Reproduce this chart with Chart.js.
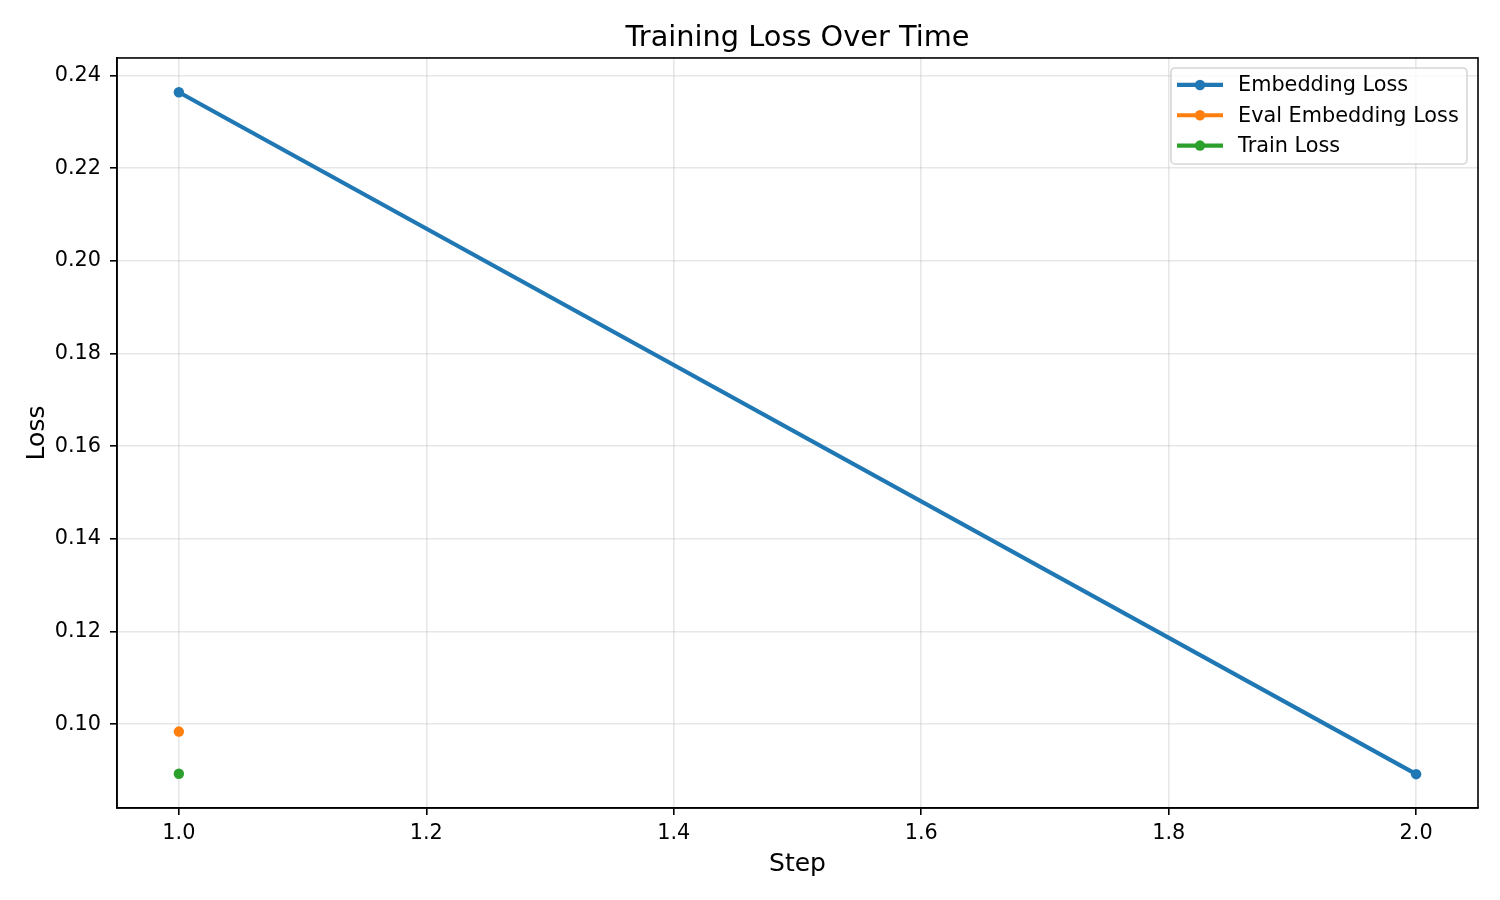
<!DOCTYPE html>
<html>
<head>
<meta charset="utf-8">
<title>Training Loss Over Time</title>
<script src="https://cdn.jsdelivr.net/npm/chart.js@4.4.1/dist/chart.umd.min.js"></script>
<style>
	html, body { margin: 0; padding: 0; background: #fff; }
	#wrap { width: 1500px; height: 900px; }
</style>
</head>
<body>
<div id="wrap"><canvas id="loss-chart" width="1500" height="900"></canvas></div>
<script>
// values
const steps             = [1.0, 2.0];
const embeddingLoss     = [0.2364, 0.0892];
const evalSteps         = [1.0];
const evalEmbeddingLoss = [0.0984];
const trainSteps        = [1.0];
const trainLoss         = [0.0893];

const xTicks = [1.0, 1.2, 1.4, 1.6, 1.8, 2.0];
const yTicks = [0.10, 0.12, 0.14, 0.16, 0.18, 0.20, 0.22, 0.24];

const FONT = "'DejaVu Sans', 'Liberation Sans', sans-serif";

let series = [
	{ name: "Embedding Loss",      color: "#1f77b4", x: steps,      y: embeddingLoss },
	{ name: "Eval Embedding Loss", color: "#ff7f0e", x: evalSteps,  y: evalEmbeddingLoss },
	{ name: "Train Loss",          color: "#2ca02c", x: trainSteps, y: trainLoss }
];

// axes frame on top/right plus a matplotlib-like legend inside the plot
const framePlugin = {
	id: 'frame',
	afterDatasetsDraw(chart) {
		const a = chart.chartArea, ctx = chart.ctx;
		ctx.save();
		ctx.strokeStyle = '#000';
		ctx.lineWidth = 1.6;
		ctx.strokeRect(a.left, a.top, a.right - a.left, a.bottom - a.top);
		ctx.restore();
	},
	afterDraw(chart) {
		const a = chart.chartArea, ctx = chart.ctx;
		const w = 296, h = 96;
		const x0 = a.right - 11 - w, y0 = a.top + 10;
		ctx.save();
		ctx.beginPath();
		ctx.roundRect(x0, y0, w, h, 4);
		ctx.fillStyle = 'rgba(255,255,255,0.8)';
		ctx.fill();
		ctx.strokeStyle = 'rgba(204,204,204,0.8)';
		ctx.lineWidth = 1.6;
		ctx.stroke();
		ctx.font = '20.8px ' + FONT;
		ctx.textBaseline = 'middle';
		ctx.textAlign = 'left';
		chart.data.datasets.forEach((ds, i) => {
			const y = y0 + 17 + i * 30.3;
			ctx.strokeStyle = ds.borderColor;
			ctx.lineWidth = 4.2;
			ctx.beginPath();
			ctx.moveTo(x0 + 6, y);
			ctx.lineTo(x0 + 52, y);
			ctx.stroke();
			ctx.fillStyle = ds.borderColor;
			ctx.beginPath();
			ctx.arc(x0 + 29, y, 5.2, 0, Math.PI * 2);
			ctx.fill();
			ctx.fillStyle = '#000';
			ctx.fillText(ds.label, x0 + 67, y + 1);
		});
		ctx.restore();
	}
};

let datasets = series.map(s => ({
	label: s.name,
	data: s.x.map((v, i) => ({ x: v, y: s.y[i] })),
	borderColor: s.color,
	backgroundColor: s.color,
	borderWidth: 4.2,
	pointRadius: 5.2,
	pointHoverRadius: 5.2,
	pointBorderWidth: 0,
	tension: 0
}));

let ctx = document.getElementById('loss-chart').getContext('2d');

new Chart(ctx, {
	type: 'line',
	data: { datasets: datasets },
	options: {
		responsive: false,
		animation: false,
		devicePixelRatio: 1,
		layout: { padding: { left: 0, right: 22, top: 0, bottom: 0 } },
		plugins: {
			legend: { display: false },
			tooltip: { enabled: false },
			title: {
				display: true,
				fullSize: false,
				text: 'Training Loss Over Time',
				color: '#000',
				font: { family: FONT, size: 28.8, weight: 'normal', lineHeight: 1.2 },
				padding: { top: 21, bottom: 2.4 }
			}
		},
		scales: {
			x: {
				type: 'linear',
				min: 0.95,
				max: 2.05,
				afterBuildTicks: s => { s.ticks = xTicks.map(v => ({ value: v })); },
				afterFit: s => { s.height = 92; },
				ticks: {
					color: '#000',
					padding: 6,
					maxRotation: 0,
					font: { family: FONT, size: 20.8 },
					callback: v => v.toFixed(1)
				},
				grid: {
					color: 'rgba(176,176,176,0.3)',
					lineWidth: 1.6,
					tickColor: '#000',
					tickWidth: 1.6,
					tickLength: 7
				},
				border: { display: true, color: '#000', width: 1.6 },
				title: {
					display: true,
					text: 'Step',
					color: '#000',
					font: { family: FONT, size: 25, lineHeight: 1.2 },
					padding: { top: 0, bottom: 21 }
				}
			},
			y: {
				type: 'linear',
				min: 0.0819,
				max: 0.2438,
				afterBuildTicks: s => { s.ticks = yTicks.map(v => ({ value: v })); },
				afterFit: s => { s.width = 117; },
				ticks: {
					color: '#000',
					padding: 9,
					font: { family: FONT, size: 20.8 },
					callback: v => v.toFixed(2)
				},
				grid: {
					color: 'rgba(176,176,176,0.3)',
					lineWidth: 1.6,
					tickColor: '#000',
					tickWidth: 1.6,
					tickLength: 7
				},
				border: { display: true, color: '#000', width: 1.6 },
				title: {
					display: true,
					text: 'Loss',
					color: '#000',
					font: { family: FONT, size: 25, lineHeight: 1.2 },
					padding: { top: 22, bottom: 0 }
				}
			}
		}
	},
	plugins: [framePlugin]
});
</script>
</body>
</html>
